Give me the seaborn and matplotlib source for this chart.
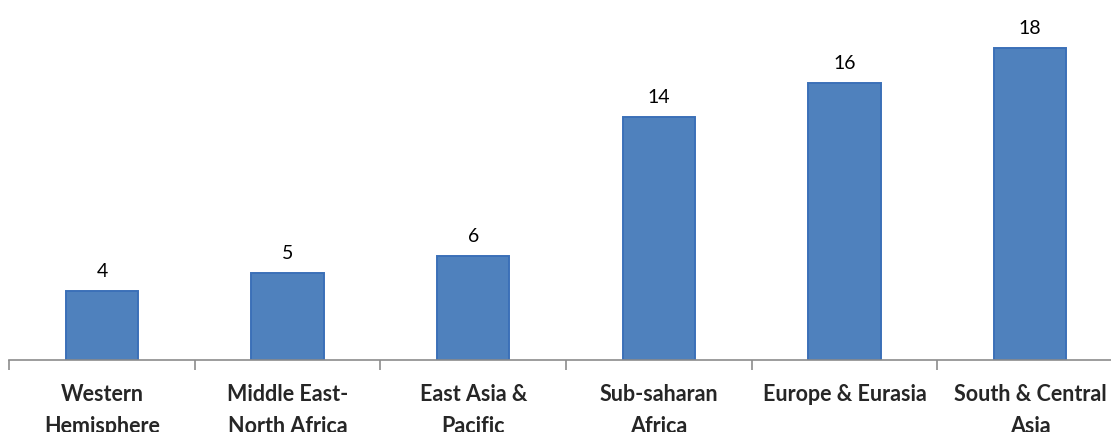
import matplotlib
matplotlib.use("Agg")
import matplotlib.pyplot as plt
import seaborn as sns
import pandas as pd

# data
regions = ['Western\nHemisphere', 'Middle East-\nNorth Africa', 'East Asia &\nPacific',
           'Sub-saharan\nAfrica', 'Europe & Eurasia', 'South & Central\nAsia']
counts = [4, 5, 6, 14, 16, 18]

df = pd.DataFrame({'region': regions, 'count': counts})

sns.set_style('white')
plt.rcParams['font.family'] = ['Lato', 'DejaVu Sans']

fig = plt.figure(figsize=(11.11, 4.32), dpi=100)
ax = fig.add_axes([0.0083, 0.1667, 1.0023, 0.8025])

sns.barplot(data=df, x='region', y='count', color='#4F81BD', saturation=1,
            width=0.39, edgecolor='#3B70B8', linewidth=1.4, ax=ax)

ax.set_ylim(0, 20)
ax.set_xlim(-0.5, len(regions) - 0.5)

# value labels above bars
for i, v in enumerate(counts):
    ax.annotate(str(v), (i, v), xytext=(0, 8), textcoords='offset points',
                ha='center', va='bottom', fontsize=14, color='black')

# axis styling
for side in ['top', 'right', 'left']:
    ax.spines[side].set_visible(False)
ax.spines['bottom'].set_color('#8C8C8C')
ax.spines['bottom'].set_linewidth(1.2)
ax.set_yticks([])
ax.set_xlabel('')
ax.set_ylabel('')

ax.set_xticks(range(len(regions)))
ax.set_xticklabels(regions, fontsize=15.5, fontweight='bold', linespacing=1.7)
ax.tick_params(axis='x', which='major', length=0, pad=17)
ax.set_xticks([i - 0.5 for i in range(len(regions) + 1)], minor=True)
ax.tick_params(axis='x', which='minor', length=7, width=1.2, color='#8C8C8C', bottom=True)

plt.savefig('out.png', dpi=100)
